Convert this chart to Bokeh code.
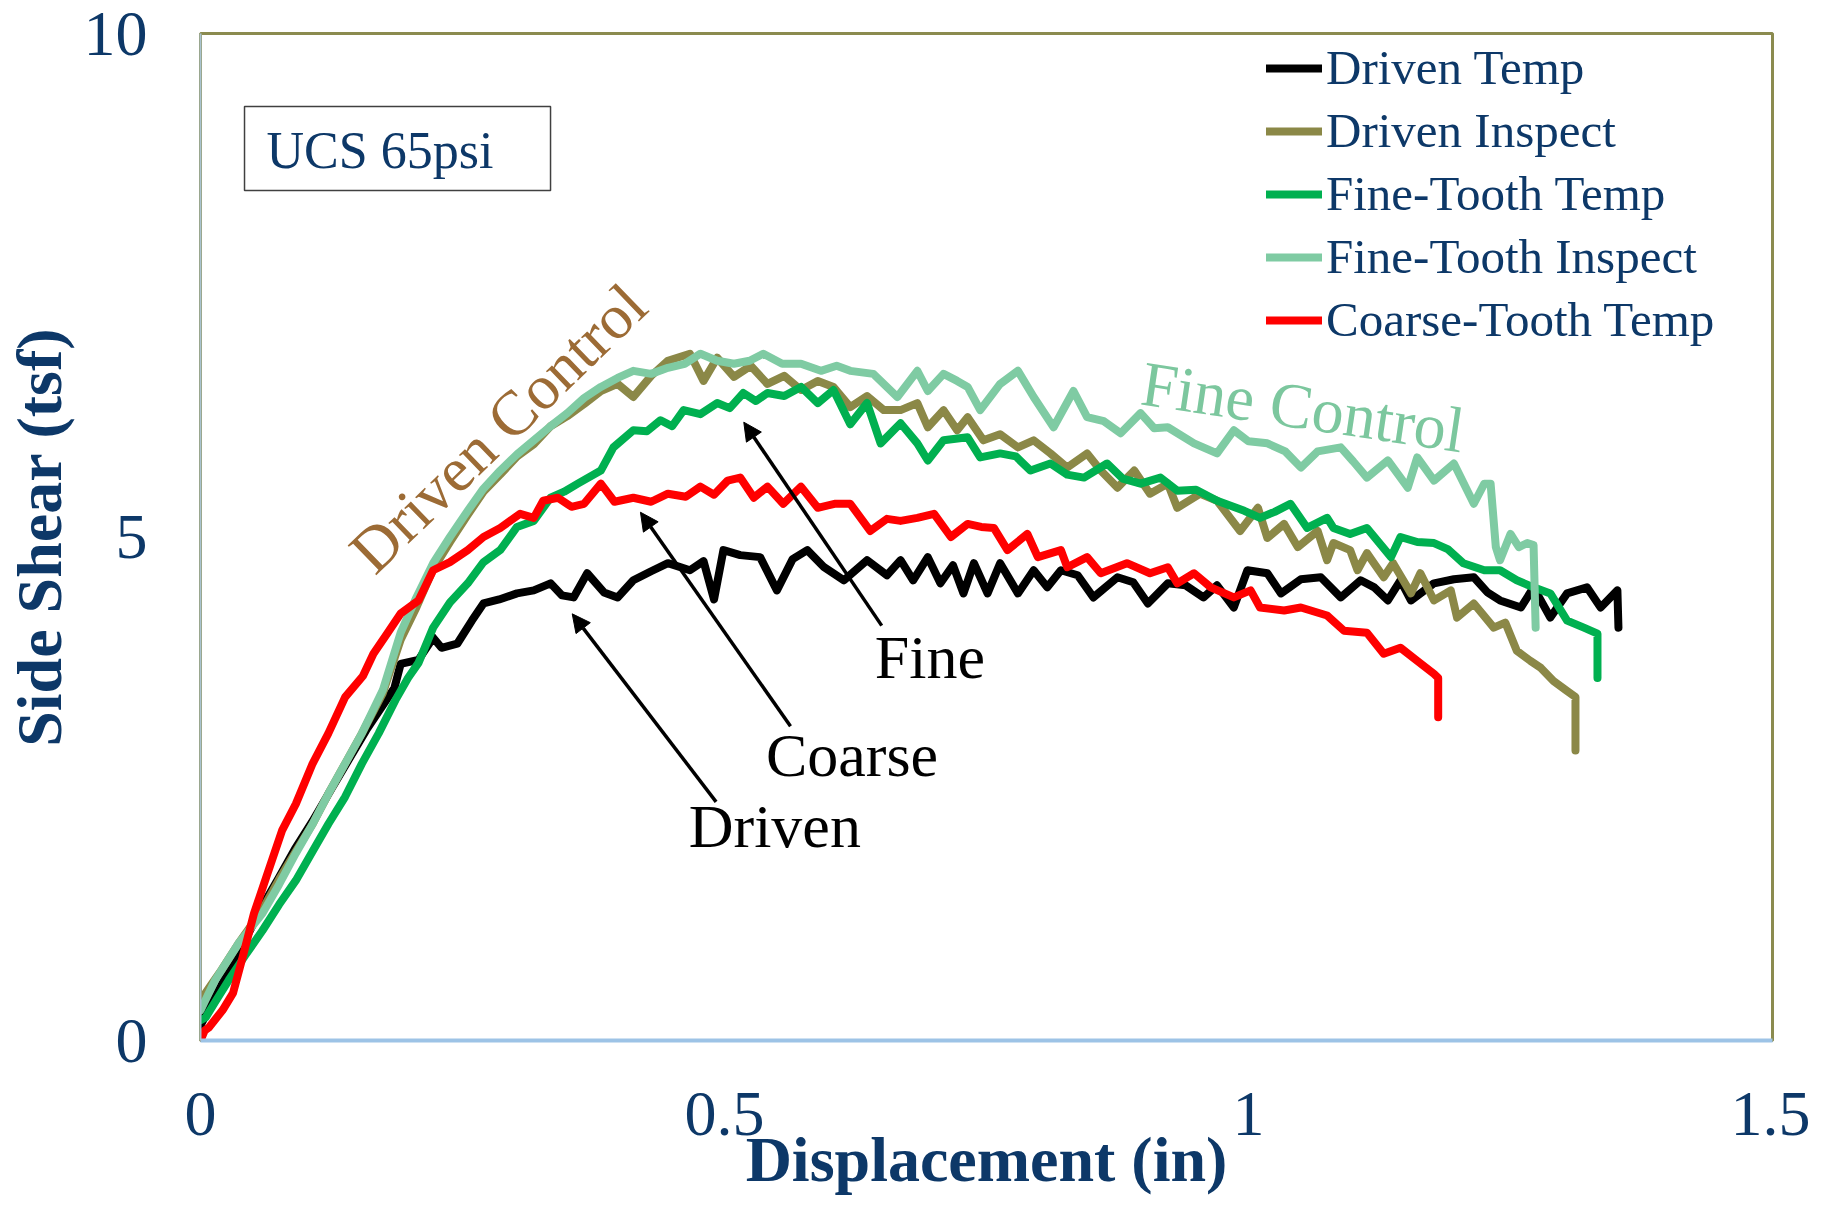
from bokeh.plotting import figure
from bokeh.models import Range1d, FixedTicker, Label, Arrow, NormalHead, BoxAnnotation
from bokeh.embed import file_html
from bokeh.resources import INLINE

FONT = "Liberation Serif"
NAVY = "#0D3868"

# ---------------- data ----------------
x_ticks = [0, 0.5, 1, 1.5]
x_tick_labels = ["0", "0.5", "1", "1.5"]
y_ticks = [0, 5, 10]
y_tick_labels = ["0", "5", "10"]

series_names = ["Driven Temp", "Driven Inspect", "Fine-Tooth Temp", "Fine-Tooth Inspect", "Coarse-Tooth Temp"]

driven_temp_x = [0, 0.01, 0.02, 0.04, 0.06, 0.075, 0.09, 0.107, 0.125, 0.141, 0.158, 0.174, 0.185, 0.191,
                 0.208, 0.222, 0.230, 0.245, 0.259, 0.270, 0.285, 0.302, 0.318, 0.334, 0.345, 0.356, 0.369,
                 0.385, 0.398, 0.413, 0.430, 0.446, 0.467, 0.480, 0.490, 0.499, 0.515, 0.534, 0.550, 0.565,
                 0.579, 0.595, 0.614, 0.636, 0.655, 0.668, 0.680, 0.694, 0.706, 0.718, 0.728, 0.738, 0.751,
                 0.763, 0.780, 0.795, 0.808, 0.821, 0.837, 0.852, 0.875, 0.890, 0.904, 0.923, 0.940, 0.957,
                 0.970, 0.986, 0.999, 1.018, 1.031, 1.050, 1.069, 1.088, 1.107, 1.120, 1.133, 1.145, 1.155,
                 1.177, 1.196, 1.215, 1.228, 1.240, 1.260, 1.272, 1.288, 1.304, 1.323, 1.336, 1.352, 1.353]
driven_temp_y = [0.15, 0.35, 0.55, 0.95, 1.35, 1.62, 1.90, 2.18, 2.50, 2.78, 3.08, 3.33, 3.50, 3.74,
                 3.78, 4.00, 3.90, 3.94, 4.17, 4.34, 4.38, 4.44, 4.47, 4.54, 4.42, 4.40, 4.64,
                 4.45, 4.40, 4.57, 4.66, 4.74, 4.67, 4.76, 4.38, 4.87, 4.82, 4.80, 4.47, 4.78,
                 4.87, 4.70, 4.57, 4.77, 4.62, 4.77, 4.57, 4.80, 4.54, 4.72, 4.44, 4.74, 4.44,
                 4.74, 4.44, 4.67, 4.50, 4.67, 4.62, 4.40, 4.60, 4.55, 4.34, 4.54, 4.52, 4.40,
                 4.52, 4.30, 4.67, 4.64, 4.44, 4.58, 4.60, 4.40, 4.57, 4.50, 4.37, 4.57, 4.37,
                 4.54, 4.58, 4.60, 4.45, 4.37, 4.30, 4.50, 4.20, 4.44, 4.50, 4.30, 4.47, 4.10]

driven_inspect_x = [0, 0.01, 0.02, 0.036, 0.059, 0.075, 0.091, 0.107, 0.122, 0.138, 0.154, 0.174, 0.191,
                    0.206, 0.222, 0.238, 0.255, 0.270, 0.286, 0.302, 0.318, 0.334, 0.350, 0.366, 0.382,
                    0.398, 0.413, 0.430, 0.446, 0.467, 0.480, 0.493, 0.509, 0.525, 0.541, 0.557, 0.573,
                    0.589, 0.604, 0.620, 0.636, 0.652, 0.668, 0.684, 0.694, 0.709, 0.722, 0.732, 0.747,
                    0.763, 0.780, 0.795, 0.811, 0.827, 0.846, 0.859, 0.875, 0.891, 0.906, 0.923, 0.932,
                    0.954, 0.970, 0.992, 1.009, 1.018, 1.034, 1.047, 1.066, 1.075, 1.081, 1.097, 1.104,
                    1.113, 1.129, 1.138, 1.155, 1.164, 1.177, 1.193, 1.199, 1.215, 1.234, 1.245, 1.256,
                    1.269, 1.279, 1.291, 1.304, 1.312, 1.312]
driven_inspect_y = [0.40, 0.55, 0.70, 0.96, 1.30, 1.60, 1.88, 2.15, 2.45, 2.75, 3.05, 3.45, 3.98,
                    4.30, 4.68, 4.95, 5.22, 5.45, 5.62, 5.80, 5.92, 6.10, 6.20, 6.32, 6.45,
                    6.52, 6.39, 6.60, 6.75, 6.82, 6.55, 6.78, 6.59, 6.70, 6.52, 6.60, 6.46,
                    6.55, 6.49, 6.29, 6.40, 6.26, 6.26, 6.33, 6.09, 6.26, 6.06, 6.19, 5.96,
                    6.02, 5.89, 5.96, 5.83, 5.69, 5.83, 5.66, 5.49, 5.66, 5.43, 5.53, 5.29,
                    5.43, 5.36, 5.06, 5.29, 4.99, 5.13, 4.90, 5.06, 4.77, 4.94, 4.87, 4.67,
                    4.84, 4.60, 4.74, 4.44, 4.64, 4.37, 4.47, 4.20, 4.34, 4.10, 4.15, 3.87,
                    3.77, 3.70, 3.57, 3.47, 3.41, 2.88]

fine_temp_x = [0, 0.005, 0.015, 0.027, 0.043, 0.059, 0.075, 0.091, 0.107, 0.122, 0.138, 0.154, 0.170,
               0.186, 0.198, 0.208, 0.222, 0.238, 0.255, 0.270, 0.286, 0.302, 0.318, 0.334, 0.347,
               0.360, 0.382, 0.394, 0.413, 0.426, 0.439, 0.450, 0.461, 0.477, 0.493, 0.505, 0.518,
               0.530, 0.541, 0.557, 0.573, 0.589, 0.604, 0.620, 0.636, 0.649, 0.668, 0.684, 0.694,
               0.709, 0.732, 0.744, 0.763, 0.778, 0.792, 0.811, 0.827, 0.843, 0.865, 0.880, 0.897,
               0.916, 0.932, 0.950, 0.970, 0.996, 1.011, 1.025, 1.040, 1.056, 1.075, 1.081, 1.097,
               1.113, 1.136, 1.145, 1.161, 1.177, 1.190, 1.205, 1.225, 1.240, 1.256, 1.272, 1.288,
               1.304, 1.320, 1.333, 1.333]
fine_temp_y = [0.20, 0.23, 0.40, 0.60, 0.85, 1.09, 1.35, 1.59, 1.88, 2.15, 2.42, 2.75, 3.05,
               3.38, 3.60, 3.75, 4.10, 4.35, 4.54, 4.75, 4.87, 5.10, 5.16, 5.39, 5.45,
               5.53, 5.66, 5.89, 6.06, 6.05, 6.16, 6.10, 6.26, 6.22, 6.33, 6.28, 6.43,
               6.35, 6.43, 6.40, 6.49, 6.33, 6.46, 6.12, 6.33, 5.93, 6.13, 5.93, 5.76,
               5.96, 5.99, 5.79, 5.83, 5.80, 5.66, 5.73, 5.62, 5.59, 5.73, 5.58, 5.53,
               5.59, 5.46, 5.47, 5.36, 5.26, 5.19, 5.25, 5.33, 5.09, 5.19, 5.09, 5.03,
               5.09, 4.80, 5.00, 4.95, 4.94, 4.88, 4.74, 4.67, 4.67, 4.57, 4.50, 4.44,
               4.17, 4.10, 4.04, 3.60]

fine_inspect_x = [0, 0.014, 0.036, 0.059, 0.075, 0.091, 0.107, 0.122, 0.138, 0.154, 0.174, 0.191,
                  0.206, 0.222, 0.238, 0.255, 0.270, 0.286, 0.302, 0.318, 0.334, 0.350, 0.366, 0.382,
                  0.398, 0.413, 0.430, 0.446, 0.462, 0.477, 0.493, 0.509, 0.524, 0.537, 0.555, 0.573,
                  0.592, 0.607, 0.620, 0.642, 0.665, 0.684, 0.694, 0.709, 0.722, 0.732, 0.744, 0.763,
                  0.780, 0.795, 0.814, 0.833, 0.846, 0.862, 0.878, 0.897, 0.910, 0.923, 0.948, 0.970,
                  0.986, 1.000, 1.018, 1.035, 1.050, 1.066, 1.088, 1.100, 1.113, 1.133, 1.152, 1.161,
                  1.177, 1.196, 1.215, 1.225, 1.231, 1.236, 1.240, 1.250, 1.258, 1.266, 1.272, 1.274]
fine_inspect_y = [0.30, 0.60, 0.96, 1.26, 1.55, 1.86, 2.15, 2.45, 2.75, 3.05, 3.48, 4.05,
                  4.40, 4.74, 5.00, 5.26, 5.48, 5.66, 5.82, 5.96, 6.10, 6.23, 6.38, 6.49,
                  6.58, 6.65, 6.62, 6.68, 6.72, 6.82, 6.75, 6.72, 6.75, 6.82, 6.72, 6.72,
                  6.65, 6.70, 6.65, 6.62, 6.39, 6.65, 6.45, 6.62, 6.55, 6.49, 6.26, 6.52,
                  6.65, 6.39, 6.09, 6.45, 6.19, 6.15, 6.03, 6.23, 6.08, 6.09, 5.93, 5.83,
                  6.06, 5.95, 5.93, 5.85, 5.69, 5.85, 5.89, 5.75, 5.59, 5.76, 5.49, 5.79,
                  5.56, 5.73, 5.33, 5.53, 5.53, 4.90, 4.77, 5.03, 4.90, 4.94, 4.92, 4.10]

coarse_temp_x = [0, 0.004, 0.008, 0.021, 0.031, 0.040, 0.051, 0.064, 0.078, 0.091, 0.107, 0.122, 0.138,
                 0.155, 0.165, 0.178, 0.191, 0.208, 0.222, 0.238, 0.255, 0.270, 0.286, 0.305, 0.318,
                 0.327, 0.341, 0.354, 0.366, 0.382, 0.395, 0.413, 0.430, 0.446, 0.463, 0.477, 0.490,
                 0.503, 0.515, 0.528, 0.541, 0.556, 0.573, 0.589, 0.605, 0.620, 0.639, 0.655, 0.668,
                 0.684, 0.700, 0.716, 0.732, 0.745, 0.757, 0.770, 0.789, 0.799, 0.821, 0.827, 0.846,
                 0.859, 0.884, 0.906, 0.923, 0.932, 0.948, 0.964, 0.986, 1.002, 1.011, 1.034, 1.050,
                 1.075, 1.091, 1.113, 1.129, 1.145, 1.161, 1.177, 1.181, 1.181]
coarse_temp_y = [0.00, 0.10, 0.13, 0.30, 0.47, 0.82, 1.26, 1.66, 2.09, 2.35, 2.75, 3.05, 3.41,
                 3.62, 3.84, 4.04, 4.24, 4.37, 4.67, 4.75, 4.87, 5.00, 5.09, 5.23, 5.19,
                 5.36, 5.39, 5.30, 5.33, 5.53, 5.35, 5.39, 5.35, 5.43, 5.40, 5.50, 5.42,
                 5.56, 5.59, 5.39, 5.50, 5.33, 5.50, 5.29, 5.33, 5.33, 5.06, 5.18, 5.16,
                 5.19, 5.23, 5.00, 5.13, 5.10, 5.09, 4.87, 5.03, 4.80, 4.87, 4.70, 4.80,
                 4.64, 4.74, 4.64, 4.70, 4.54, 4.64, 4.50, 4.40, 4.47, 4.30, 4.27, 4.30,
                 4.22, 4.07, 4.05, 3.84, 3.90, 3.77, 3.64, 3.60, 3.21]

series_x = [driven_temp_x, driven_inspect_x, fine_temp_x, fine_inspect_x, coarse_temp_x]
series_y = [driven_temp_y, driven_inspect_y, fine_temp_y, fine_inspect_y, coarse_temp_y]
series_colors = ["#000000", "#8B8847", "#00B050", "#7FCBA3", "#FF0000"]

# ---------------- figure ----------------
p = figure(width=1810, height=1197, x_range=Range1d(0, 1.5), y_range=Range1d(0, 10),
           output_backend="svg", toolbar_location=None,
           min_border_left=200, min_border_right=38, min_border_top=33, min_border_bottom=157)
p.grid.visible = False
p.background_fill_color = "white"
p.border_fill_color = "white"
p.outline_line_color = "#8B8B4F"
p.outline_line_width = 3

for name, xs, ys, c in zip(series_names, series_x, series_y, series_colors):
    p.line(xs, ys, line_color=c, line_width=8, line_join="round", line_cap="round",
           legend_label=name)

# axes
p.xaxis.ticker = FixedTicker(ticks=x_ticks)
p.xaxis.major_label_overrides = {t: l for t, l in zip(x_ticks, x_tick_labels)}
p.yaxis.ticker = FixedTicker(ticks=y_ticks)
p.yaxis.major_label_overrides = {t: l for t, l in zip(y_ticks, y_tick_labels)}

for ax in (p.xaxis[0], p.yaxis[0]):
    ax.major_tick_in = 0
    ax.major_tick_out = 0
    ax.minor_tick_in = 0
    ax.minor_tick_out = 0
    ax.major_label_text_font = FONT
    ax.major_label_text_font_size = "64px"
    ax.major_label_text_color = NAVY
    ax.axis_label_text_font = FONT
    ax.axis_label_text_font_size = "64px"
    ax.axis_label_text_font_style = "bold"
    ax.axis_label_text_color = NAVY

p.xaxis.axis_label = "Displacement (in)"
p.yaxis.axis_label = "Side Shear (tsf)"
p.xaxis.axis_line_color = "#9DC3E6"
p.xaxis.axis_line_width = 4
p.yaxis.axis_line_color = "#A9C3CF"
p.yaxis.axis_line_width = 2
p.xaxis.major_label_standoff = 52
p.xaxis.axis_label_standoff = -14
p.yaxis.major_label_standoff = 53
p.yaxis.axis_label_standoff = 6

# legend
lg = p.legend[0]
lg.location = (1066, 692)
lg.border_line_color = None
lg.background_fill_alpha = 0
lg.padding = 0
lg.margin = 0
lg.spacing = 6
lg.glyph_width = 56
lg.glyph_height = 50
lg.label_height = 50
lg.label_standoff = 4
lg.label_text_font = FONT
lg.label_text_font_size = "49px"
lg.label_text_color = NAVY

# UCS box
p.add_layout(BoxAnnotation(left=0.042, right=0.334, bottom=8.44, top=9.275,
                           fill_alpha=0, line_color="#404040", line_alpha=1, line_width=1.5))
p.add_layout(Label(x=0.063, y=8.84, text="UCS 65psi", text_font=FONT, text_font_size="52px",
                   text_color=NAVY, text_baseline="middle"))

# rotated labels
p.add_layout(Label(x=0.284, y=6.08, text="Driven Control", text_font=FONT, text_font_size="63px",
                   text_color="#9C6B35", angle=44, angle_units="deg",
                   text_align="center", text_baseline="middle"))
p.add_layout(Label(x=1.052, y=6.29, text="Fine Control", text_font=FONT, text_font_size="64px",
                   text_color="#7CC79E", angle=-8.5, angle_units="deg",
                   text_align="center", text_baseline="middle"))

# arrows and their texts
for (xs, ys, xe, ye) in [(0.492, 2.37, 0.3547, 4.237),
                         (0.563, 3.12, 0.4198, 5.246),
                         (0.650, 4.12, 0.5184, 6.14)]:
    p.add_layout(Arrow(x_start=xs, y_start=ys, x_end=xe, y_end=ye, line_width=3.5, line_color="black",
                       end=NormalHead(size=18, fill_color="black", line_color="black", line_width=1)))

for (tx, ty, t) in [(0.548, 2.135, "Driven"), (0.6217, 2.84, "Coarse"), (0.696, 3.81, "Fine")]:
    p.add_layout(Label(x=tx, y=ty, text=t, text_font=FONT, text_font_size="62px", text_color="black",
                       text_align="center", text_baseline="middle"))

open("out.html", "w").write(file_html(p, INLINE))
